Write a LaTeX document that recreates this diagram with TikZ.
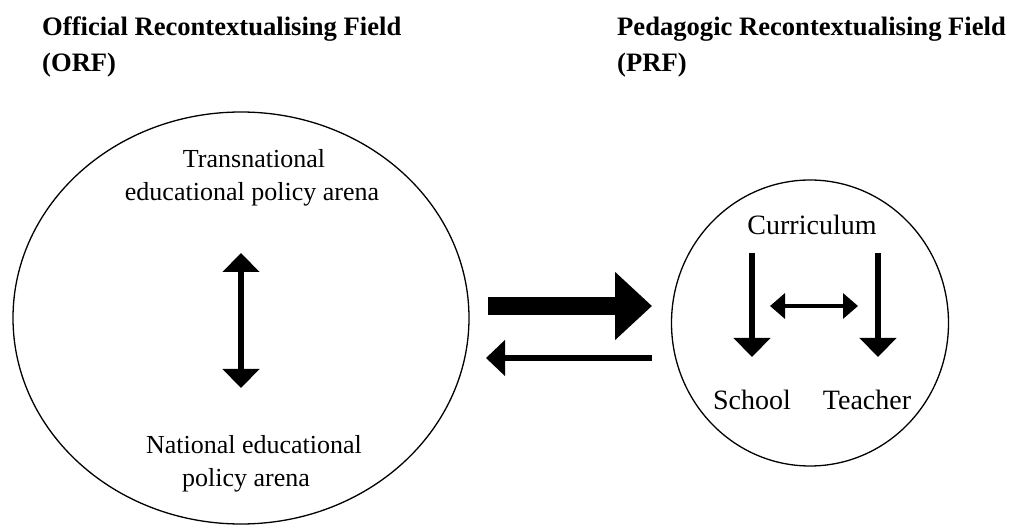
\documentclass[tikz,border=0pt]{standalone}
\usepackage{fontspec}
\setmainfont{Liberation Serif}
\usetikzlibrary{arrows.meta,shapes.geometric}
\begin{document}
\begin{tikzpicture}[x=1pt,y=-1pt,
  lbl/.style={inner sep=0pt, anchor=base, font=\fontsize{28}{33}\selectfont},
  orflbl/.style={lbl, font=\fontsize{26}{33}\selectfont},
  hdr/.style={inner sep=0pt, anchor=base west, font=\bfseries\fontsize{26.6}{36}\selectfont},
  field/.style={draw, ellipse, line width=1.3pt, inner sep=0pt},
  fatarrow/.style={line width=6pt, -{Triangle[length=19pt,width=36pt]}},
  fatdbl/.style={line width=6pt, {Triangle[length=19pt,width=36pt]}-{Triangle[length=19pt,width=36pt]}},
  thindbl/.style={line width=3.5pt, {Triangle[length=15pt,width=25pt]}-{Triangle[length=15pt,width=25pt]}},
  bigarrow/.style={line width=18pt, -{Triangle[length=37pt,width=66pt]}}
]
\useasboundingbox (0,0) rectangle (1010,526);
\fill[white] (0,0) rectangle (1010,526);

% headers
\node[hdr] (orfA) at (42,36) {Official Recontextualising Field};
\node[hdr] (orfB) at (42,72) {(ORF)};
\node[hdr] (prfA) at (617,36) {Pedagogic Recontextualising Field};
\node[hdr] (prfB) at (617,72) {(PRF)};

% fields
\node[field, minimum width=456pt, minimum height=412pt] (orf) at (241,318) {};
\node[field, minimum width=277pt, minimum height=286pt] (prf) at (810,323) {};

% ORF contents
\node[orflbl] (trA) at (254,168) {Transnational};
\node[orflbl] (trB) at (252,201) {educational policy arena};
\node[orflbl] (naA) at (254,454) {National educational};
\node[orflbl] (naB) at (246,487) {policy arena};
\coordinate (vtop) at (241,253);
\coordinate (vbot) at (241,388);
\draw[fatdbl] (vtop) -- (vbot);

% PRF contents
\node[lbl] (cur) at (812,235) {Curriculum};
\node[lbl] (sch) at (752,410) {School};
\node[lbl] (tea) at (867,410) {Teacher};
\coordinate (lt) at (752,253);
\coordinate (lb) at (752,357);
\coordinate (rt) at (878,253);
\coordinate (rb) at (878,357);
\draw[fatarrow] (lt) -- (lb);
\draw[fatarrow] (rt) -- (rb);
\coordinate (hl) at (770,306);
\coordinate (hr) at (858,306);
\draw[thindbl] (hl) -- (hr);

% exchange arrows
\coordinate (bs) at (488,306);
\coordinate (be) at (652,306);
\draw[bigarrow] (bs) -- (be);
\coordinate (ts) at (652,358);
\coordinate (te) at (486,358);
\draw[fatarrow, {-Triangle[length=19pt,width=35pt]}] (ts) -- (te);
\end{tikzpicture}
\end{document}
